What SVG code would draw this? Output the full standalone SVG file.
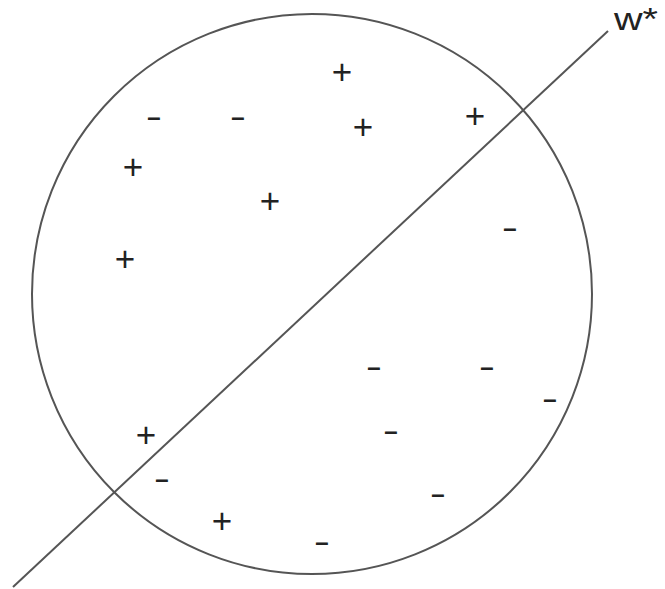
<svg xmlns="http://www.w3.org/2000/svg" width="665" height="589" viewBox="0 0 665 589">
<style>
.shape{fill:none;stroke:#555;stroke-width:2}
.p{font-family:"Liberation Sans",Arial,sans-serif;font-size:35px;fill:#222;text-anchor:middle}
.m{font-family:"Liberation Sans",Arial,sans-serif;font-size:34px;fill:#222;text-anchor:middle}
.lbl{font-family:"Liberation Sans",Arial,sans-serif;font-size:31px;fill:#222}
</style>
<rect width="665" height="589" fill="#fff"/>
<g id="circle"><circle class="shape" cx="312" cy="294" r="280"/></g>
<g id="connectors"><line class="shape" x1="13" y1="587" x2="608" y2="31"/></g>
<g id="label"><text class="lbl" x="614" y="30" textLength="44" lengthAdjust="spacingAndGlyphs">w*</text></g>
<g id="plus">
<text class="p" x="342" y="83.5">+</text>
<text class="p" x="363" y="138.5">+</text>
<text class="p" x="475" y="127.5">+</text>
<text class="p" x="133" y="178.5">+</text>
<text class="p" x="270" y="212.5">+</text>
<text class="p" x="125" y="270.5">+</text>
<text class="p" x="146" y="446.5">+</text>
<text class="p" x="222" y="532.5">+</text>
</g>
<g id="minus">
<text class="m" x="154" y="128" textLength="16.3" lengthAdjust="spacingAndGlyphs">-</text>
<text class="m" x="238" y="128" textLength="16.3" lengthAdjust="spacingAndGlyphs">-</text>
<text class="m" x="510" y="239" textLength="16.3" lengthAdjust="spacingAndGlyphs">-</text>
<text class="m" x="374" y="378" textLength="16.3" lengthAdjust="spacingAndGlyphs">-</text>
<text class="m" x="487" y="378" textLength="16.3" lengthAdjust="spacingAndGlyphs">-</text>
<text class="m" x="550" y="410" textLength="16.3" lengthAdjust="spacingAndGlyphs">-</text>
<text class="m" x="391" y="442" textLength="16.3" lengthAdjust="spacingAndGlyphs">-</text>
<text class="m" x="162" y="490" textLength="16.3" lengthAdjust="spacingAndGlyphs">-</text>
<text class="m" x="438" y="505" textLength="16.3" lengthAdjust="spacingAndGlyphs">-</text>
<text class="m" x="322" y="553" textLength="16.3" lengthAdjust="spacingAndGlyphs">-</text>
</g>
</svg>
